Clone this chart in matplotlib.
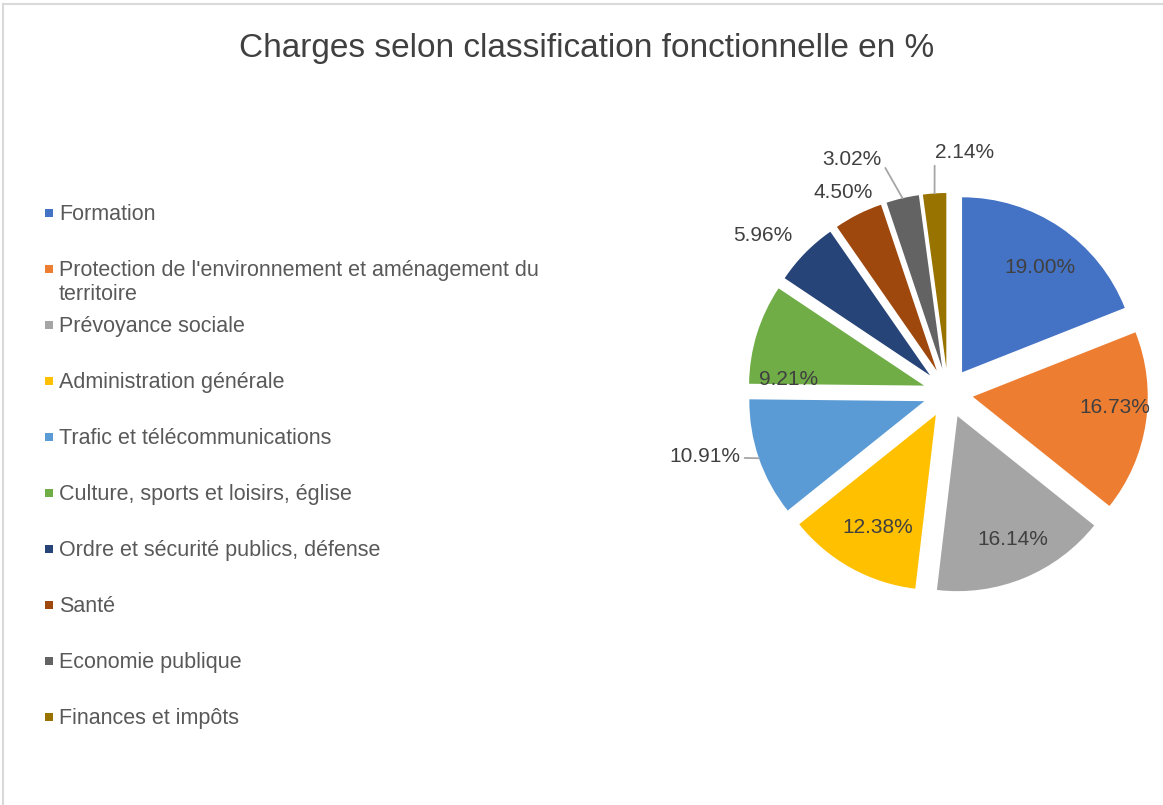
import numpy as np
import matplotlib
matplotlib.use("Agg")
import matplotlib.pyplot as plt

plt.rcParams['font.family'] = ['Liberation Sans', 'DejaVu Sans']

# Données
categories = [
    "Formation",
    "Protection de l'environnement et aménagement du\nterritoire",
    "Prévoyance sociale",
    "Administration générale",
    "Trafic et télécommunications",
    "Culture, sports et loisirs, église",
    "Ordre et sécurité publics, défense",
    "Santé",
    "Economie publique",
    "Finances et impôts",
]
values = [19.00, 16.73, 16.14, 12.38, 10.91, 9.21, 5.96, 4.50, 3.02, 2.14]
colors = ["#4472C4", "#ED7D31", "#A5A5A5", "#FFC000", "#5B9BD5",
          "#70AD47", "#264478", "#9E480E", "#636363", "#997300"]

# placement des étiquettes (rayon depuis le centre, décalage d'angle en degrés)
label_r = [0.89, 0.958, 0.918, 0.869, 1.436, 0.912, 1.39, 1.291, 1.44, 1.38]
label_nudge = [-1.9, 3.4, 1.5, 1.6, -4.3, 12.2, 4.0, 1.0, 9.2, -7.7]
leader = [False, False, False, False, True, False, False, False, True, True]
leader_relpos = {4: (1.0, 0.45), 8: (1.0, 0.4), 9: (0.0, 0.2)}

W, H = 1163, 805
fig = plt.figure(figsize=(W / 100, H / 100), dpi=100)

# fond / légende en coordonnées pixels
bg = fig.add_axes([0, 0, 1, 1])
bg.set_xlim(0, W)
bg.set_ylim(H, 0)
bg.axis('off')
bg.plot([3, 3], [4, H], color="#D9D9D9", lw=1.5)
bg.plot([3, W], [4, 4], color="#D9D9D9", lw=1.5)

bg.text(587, 48, "Charges selon classification fonctionnelle en %",
        ha='center', va='center', fontsize=24, color="#404040")

for i, (cat, col) in enumerate(zip(categories, colors)):
    yc = 213 + 56 * i
    bg.scatter([49], [yc], marker='s', s=36, color=col, linewidths=0)
    bg.text(59, yc - 9, cat, ha='left', va='top', fontsize=15.5,
            color="#595959", linespacing=1.2)

# camembert
R = 175
cx, cy = 948, 393
lim = 1.2
ax = fig.add_axes([(cx - lim * R) / W, (H - cy - lim * R) / H,
                   2 * lim * R / W, 2 * lim * R / H])
explode = [0.143] * len(values)
wedges, _ = ax.pie(values, colors=colors, startangle=90, counterclock=False,
                   explode=explode, radius=1.0,
                   wedgeprops=dict(linewidth=0))
ax.set_xlim(-lim, lim)
ax.set_ylim(-lim, lim)
ax.set_aspect('equal')
ax.axis('off')

for i, w in enumerate(wedges):
    mid = np.deg2rad((w.theta1 + w.theta2) / 2)
    ang = mid + np.deg2rad(label_nudge[i])
    tx, ty = label_r[i] * np.cos(ang), label_r[i] * np.sin(ang)
    txt = f"{values[i]:.2f}%"
    if leader[i]:
        ex, ey = 1.143 * np.cos(mid), 1.143 * np.sin(mid)
        ax.annotate(txt, xy=(ex, ey), xytext=(tx, ty), ha='center', va='center',
                    fontsize=15, color="#404040",
                    arrowprops=dict(arrowstyle='-', color="#A6A6A6", lw=1.3,
                                    shrinkA=1, shrinkB=0,
                                    relpos=leader_relpos[i]))
    else:
        ax.text(tx, ty, txt, ha='center', va='center', fontsize=15,
                color="#404040")

fig.savefig("out.png", dpi=100, facecolor="white")
